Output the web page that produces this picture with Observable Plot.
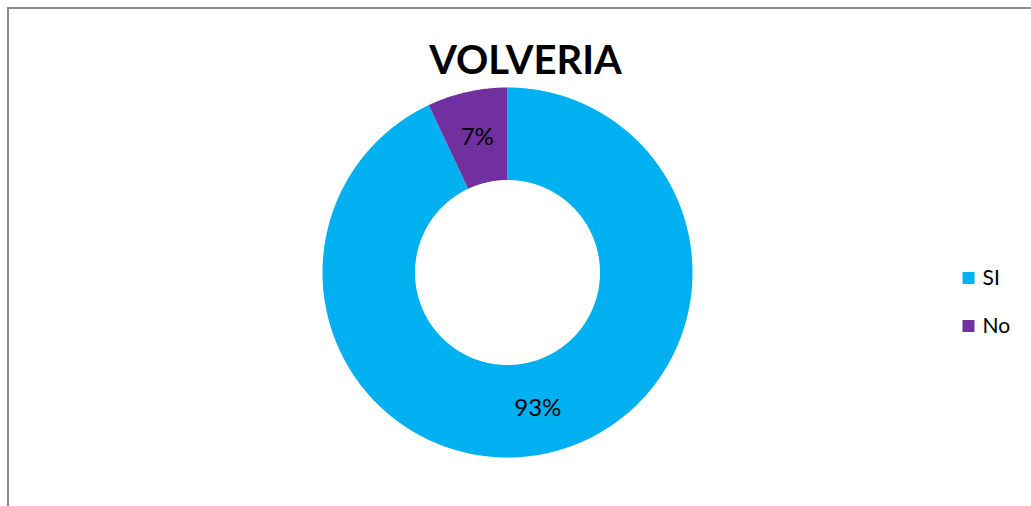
<!DOCTYPE html>
<html>
<head>
<meta charset="utf-8">
<script src="https://cdn.jsdelivr.net/npm/d3@7"></script>
<script src="https://cdn.jsdelivr.net/npm/@observablehq/plot@0.6"></script>
<style>
  html, body { margin: 0; padding: 0; background: #fff; overflow: hidden; }
  #wrap { position: relative; width: 1031px; height: 506px; }
  #frame { position: absolute; left: 7px; top: 7px; width: 1060px; height: 540px;
           border: 2px solid #8c8c8c; box-sizing: border-box; }
  #chart { position: absolute; left: 0; top: 0; }
</style>
</head>
<body>
<div id="wrap"><div id="frame"></div><div id="chart"></div></div>
<script>
const title = "VOLVERIA";
const categories = ["SI", "No"];
const values = [93, 7];
const colors = ["#00B0F0", "#7030A0"];
const labels = ["93%", "7%"];

const total = d3.sum(values);
const innerRatio = 0.5;
// build donut slice outlines (angles from the values)
const rows = [];
const labelRows = [];
let start = 0;
categories.forEach((c, i) => {
  const a0 = start / total * 2 * Math.PI;
  const a1 = (start + values[i]) / total * 2 * Math.PI;
  start += values[i];
  const n = Math.max(4, Math.ceil((a1 - a0) / (Math.PI / 360)));
  for (let k = 0; k <= n; k++) {
    const a = a0 + (a1 - a0) * k / n;
    rows.push({slice: c, x: Math.sin(a), y: Math.cos(a)});
  }
  for (let k = n; k >= 0; k--) {
    const a = a0 + (a1 - a0) * k / n;
    rows.push({slice: c, x: innerRatio * Math.sin(a), y: innerRatio * Math.cos(a)});
  }
  const am = (a0 + a1) / 2, rm = (1 + innerRatio) / 2;
  labelRows.push({text: labels[i], x: rm * Math.sin(am), y: rm * Math.cos(am)});
});

const font = "Lato, 'Open Sans', sans-serif";
const cx = 507, cy = 272, R = 185;

const plot = Plot.plot({
  width: 1031,
  height: 506,
  margin: 0,
  x: {domain: [-1, 1], range: [cx - R, cx + R], axis: null},
  y: {domain: [-1, 1], range: [cy + R, cy - R], axis: null},
  color: {domain: categories, range: colors},
  style: {fontFamily: font, background: "transparent", overflow: "visible"},
  marks: [
    Plot.line(rows, {x: "x", y: "y", z: "slice", fill: "slice", stroke: "none", curve: "linear"}),
    Plot.text(labelRows, {x: "x", y: "y", text: "text", fontSize: 24, fill: "#000", textAnchor: "middle"}),
    Plot.text([title], {frameAnchor: "top-left", dx: 525, dy: 45, text: d => d, fontSize: 40,
      fontWeight: "bold", fill: "#000", textAnchor: "middle"})
  ]
});
document.getElementById("chart").appendChild(plot);

// legend: squares and names, one row per category
const legend = Plot.plot({
  width: 1031, height: 506, margin: 0,
  x: {domain: [0, 1031], range: [0, 1031], axis: null},
  y: {domain: [0, 506], range: [0, 506], axis: null},
  color: {domain: categories, range: colors},
  style: {fontFamily: font, background: "transparent"},
  marks: [
    Plot.dot(categories, {x: () => 968, y: (d, i) => 277.5 + i * 48, symbol: "square", r: 6.77, fill: d => d}),
    Plot.text(categories, {x: () => 982, y: (d, i) => 278 + i * 48, text: d => d, textAnchor: "start",
      fontSize: 21, fill: "#000"})
  ]
});
legend.style.position = "absolute"; legend.style.left = "0px"; legend.style.top = "0px";
document.getElementById("chart").appendChild(legend);
</script>
</body>
</html>
